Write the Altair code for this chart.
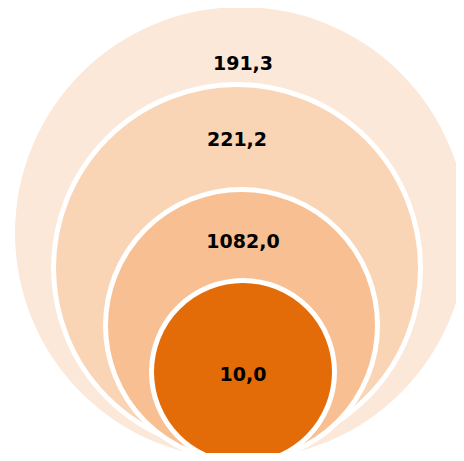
import altair as alt
import pandas as pd

# ---- data ----
rings = ["outer", "second", "third", "inner"]
values = [191.3, 221.2, 1082.0, 10.0]
labels = [f"{v:.1f}".replace(".", ",") for v in values]

# ---- styles (geometry of the nested circles, in pixels) ----
W, H = 448, 445
circle_cx = [233, 229, 233.5, 235]
circle_cy = [225, 260, 317.5, 364]
circle_d = [452, 367, 272, 183]
stroke_w = [0, 5, 5, 5]
fills = ["#FCE8D9", "#F9D4B5", "#F7BF92", "#E36C09"]
label_x = [235, 229, 235, 235]
label_y = [56, 132, 234, 367]

df = pd.DataFrame({
    "ring": rings,
    "value": values,
    "label": labels,
    "order": list(range(len(rings))),
    "cx": circle_cx,
    "cy": circle_cy,
    "size": [d * d for d in circle_d],
    "sw": stroke_w,
    "fill": fills,
    "tx": label_x,
    "ty": label_y,
})

xs = alt.Scale(domain=[0, W], range=[0, W], nice=False, zero=False)
ys = alt.Scale(domain=[0, H], range=[0, H], nice=False, zero=False)

circles = alt.Chart(df).mark_point(
    shape="circle", filled=True, opacity=1, stroke="white", strokeOpacity=1
).encode(
    x=alt.X("cx:Q", scale=xs, axis=None),
    y=alt.Y("cy:Q", scale=ys, axis=None),
    size=alt.Size("size:Q", scale=None, legend=None),
    fill=alt.Fill("fill:N", scale=None, legend=None),
    strokeWidth=alt.StrokeWidth("sw:Q", scale=None, legend=None),
    order=alt.Order("order:Q"),
)

texts = alt.Chart(df).mark_text(
    font="DejaVu Sans", fontWeight="bold", fontSize=19, color="black",
    align="center", baseline="middle"
).encode(
    x=alt.X("tx:Q", scale=xs, axis=None),
    y=alt.Y("ty:Q", scale=ys, axis=None),
    text="label:N",
)

chart = alt.layer(circles, texts).properties(
    width=W, height=H, autosize=alt.AutoSizeParams(type="none"), padding=0
).configure_view(stroke=None)

chart.save("out.html", embed_options={"renderer": "svg", "actions": False})
